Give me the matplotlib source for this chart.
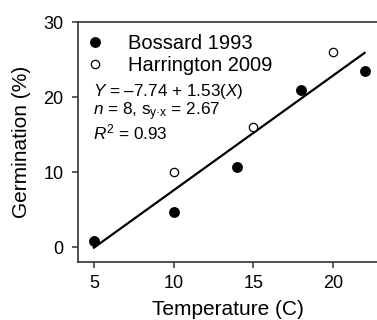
import matplotlib
matplotlib.use("Agg")
import matplotlib.pyplot as plt
import numpy as np

plt.rcParams['font.family'] = ['Liberation Sans', 'DejaVu Sans']
plt.rcParams['mathtext.fontset'] = 'custom'
plt.rcParams['mathtext.rm'] = 'Liberation Sans'
plt.rcParams['mathtext.it'] = 'Liberation Sans:italic'

# Data
bossard_temp = [5, 10, 14, 18, 22]
bossard_germ = [0.85, 4.65, 10.65, 20.9, 23.5]
harr_temp = [10, 15, 20]
harr_germ = [10.0, 16.0, 26.1]
intercept = -7.74
slope = 1.53
fit_x = [5, 22]
xticks = [5, 10, 15, 20]
yticks = [0, 10, 20, 30]

fig = plt.figure(figsize=(3.77, 3.20), dpi=100)
ax = fig.add_axes([78/377, 1-262/320, 1-78/377, (262-22.3)/320])

fx = np.array(fit_x, dtype=float)
ax.plot(fx, intercept + slope*fx, color='black', lw=1.6, zorder=2)
ax.plot(bossard_temp, bossard_germ, 'o', color='black', ms=6.8, zorder=3,
        label='Bossard 1993', clip_on=False)
ax.plot(harr_temp, harr_germ, 'o', mfc='white', mec='black', mew=0.9, ms=6,
        zorder=3, label='Harrington 2009', clip_on=False)

ax.set_xlim(4, 22.78)
ax.set_ylim(-2, 30)
ax.set_xticks(xticks)
ax.set_yticks(yticks)
ax.spines['right'].set_visible(False)
for s in ['left', 'bottom', 'top']:
    ax.spines[s].set_color('#333333')
    ax.spines[s].set_linewidth(1.2)
ax.tick_params(direction='out', length=4.5, width=1.1, color='#333333',
               labelsize=13)
ax.tick_params(axis='y', pad=6)
ax.tick_params(axis='x', pad=5)

ax.set_xlabel('Temperature (C)', fontsize=15, labelpad=5.5)
ax.set_ylabel('Germination (%)', fontsize=15, labelpad=9)

leg = ax.legend(loc='upper left', frameon=False, fontsize=14.5,
                handletextpad=1.24, borderaxespad=0, borderpad=0,
                labelspacing=0.15, handlelength=0.8,
                bbox_to_anchor=(0.03, 0.95))

ax.text(0.05, 0.71, r"$\mathit{Y}$ = –7.74 + 1.53($\mathit{X}$)",
        transform=ax.transAxes, fontsize=12.3, va='center', ha='left')
ax.text(0.05, 0.626, r"$\mathit{n}$ = 8, s$_{\mathrm{y·x}}$ = 2.67",
        transform=ax.transAxes, fontsize=12.3, va='center', ha='left')
ax.text(0.05, 0.54, r"$\mathit{R}^2$ = 0.93",
        transform=ax.transAxes, fontsize=12.3, va='center', ha='left')

fig.savefig('out.png', dpi=100)
